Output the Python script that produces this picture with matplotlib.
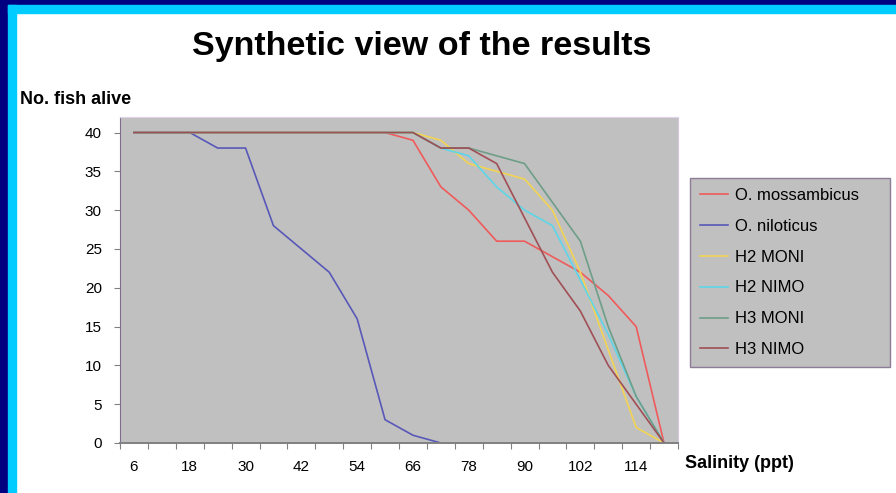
import numpy as np
import matplotlib
matplotlib.use("Agg")
import matplotlib.pyplot as plt
from matplotlib.patches import Rectangle

# Dados (salinidade em ppt, peixes vivos)
salinidade = [6, 12, 18, 24, 30, 36, 42, 48, 54, 60, 66, 72, 78, 84, 90, 96, 102, 108, 114, 120]
o_mossambicus = [40, 40, 40, 40, 40, 40, 40, 40, 40, 40, 39, 33, 30, 26, 26, 24, 22, 19, 15, 0]
o_niloticus = [40, 40, 40, 38, 38, 28, 25, 22, 16, 3, 1, 0,
               np.nan, np.nan, np.nan, np.nan, np.nan, np.nan, np.nan, np.nan]
h2_moni = [40, 40, 40, 40, 40, 40, 40, 40, 40, 40, 40, 39, 36, 35, 34, 30, 22, 12, 2, 0]
h2_nimo = [40, 40, 40, 40, 40, 40, 40, 40, 40, 40, 40, 38, 37, 33, 30, 28, 21, 14, 6, 0]
h3_moni = [40, 40, 40, 40, 40, 40, 40, 40, 40, 40, 40, 38, 38, 37, 36, 31, 26, 15, 6, 0]
h3_nimo = [40, 40, 40, 40, 40, 40, 40, 40, 40, 40, 40, 38, 38, 36, 29, 22, 17, 10, 5, 0]

series = [
    ("O. mossambicus", o_mossambicus, "#F05A5A"),
    ("O. niloticus", o_niloticus, "#5858B8"),
    ("H2 MONI", h2_moni, "#F2D452"),
    ("H2 NIMO", h2_nimo, "#5CD6E8"),
    ("H3 MONI", h3_moni, "#6E9E88"),
    ("H3 NIMO", h3_nimo, "#A04F55"),
]

plt.rcParams["font.family"] = ["Liberation Sans", "DejaVu Sans"]

W, H = 896, 493
fig = plt.figure(figsize=(W / 100, H / 100), dpi=100)
fig.patch.set_facecolor("white")

# Moldura azul (topo e esquerda)
fig.patches.append(Rectangle((0, 1 - 5 / H), 1, 5 / H, transform=fig.transFigure,
                             color="#000080", zorder=0))
fig.patches.append(Rectangle((0, 0), 8 / W, 1, transform=fig.transFigure,
                             color="#000080", zorder=0))
fig.patches.append(Rectangle((8 / W, 1 - 13 / H), 1, 8 / H, transform=fig.transFigure,
                             color="#00CCFF", zorder=0))
fig.patches.append(Rectangle((8 / W, 0), 8 / W, 1 - 5 / H, transform=fig.transFigure,
                             color="#00CCFF", zorder=0))

ax = fig.add_axes([120 / W, 1 - 443 / H, 558 / W, 326 / H])
ax.set_facecolor("#C0C0C0")

x = np.arange(len(salinidade))
for nome, valores, cor in series:
    ax.plot(x, valores, color=cor, lw=1.2, label=nome)

ax.set_xlim(-0.5, len(salinidade) - 0.5)
ax.set_ylim(0, 42)

# Eixo y
ax.set_yticks(range(0, 41, 5))
ax.tick_params(axis="y", length=4, color="#808080", pad=9, labelsize=11)

# Eixo x: marcas entre categorias, rotulos a cada duas categorias
ax.set_xticks(np.arange(len(salinidade) + 1) - 0.5)
ax.set_xticklabels([])
ax.tick_params(axis="x", which="major", length=4, color="#808080")
ax.set_xticks(x[::2], minor=True)
ax.set_xticklabels([str(s) for s in salinidade[::2]], minor=True)
ax.tick_params(axis="x", which="minor", length=0, pad=12, labelsize=11)

ax.spines["left"].set_color("#806E8C")
ax.spines["bottom"].set_color("#808080")
ax.spines["bottom"].set_linewidth(1.4)
ax.spines["top"].set_color("#E0D0E8")
ax.spines["right"].set_color("#D8C4E0")

fig.text(422 / W, 1 - 47 / H, "Synthetic view of the results", ha="center", va="center",
         fontsize=24.5, fontweight="bold")
fig.text(20 / W, 1 - 100 / H, "No. fish alive", ha="left", va="center",
         fontsize=13, fontweight="bold")
fig.text(685 / W, 1 - 463 / H, "Salinity (ppt)", ha="left", va="center",
         fontsize=13, fontweight="bold")

leg = fig.legend(loc="upper left", bbox_to_anchor=(690 / W, 1 - 178 / H - 0.01, 200 / W, 0.01),
                 mode="expand", borderaxespad=0, fontsize=12, frameon=True,
                 fancybox=False, facecolor="#C0C0C0", edgecolor="#8C7C96",
                 handlelength=1.7, handletextpad=0.4, labelspacing=0.95, borderpad=0.6)
leg.get_frame().set_linewidth(1.0)
leg.get_frame().set_alpha(1)

fig.savefig("out.png", dpi=100)
